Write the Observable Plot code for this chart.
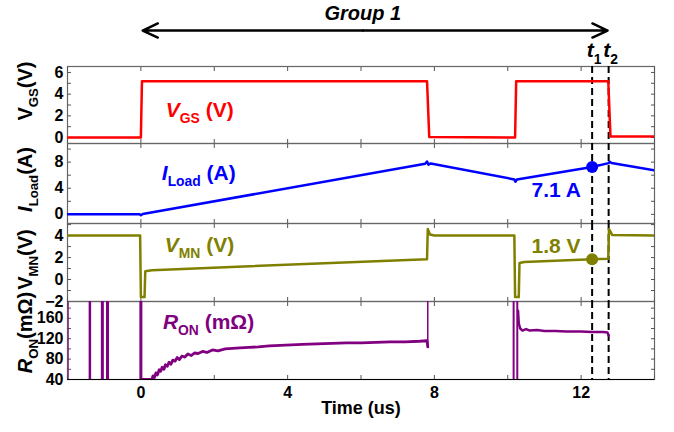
<!DOCTYPE html>
<html><head><meta charset="utf-8">
<script src="https://cdn.jsdelivr.net/npm/d3@7"></script>
<script src="https://cdn.jsdelivr.net/npm/@observablehq/plot@0.6"></script>
<style>
body{margin:0;background:#fff;}
#chart{position:relative;width:674px;height:432px;font-family:"Liberation Sans",Arial,sans-serif;}
#chart svg{position:absolute;left:0;overflow:visible;}
</style></head><body><div id="chart"></div>
<script>
// ---------- data ----------
const xDomain = [-2, 14];
const xTickLabels = [0, 4, 8, 12];
const xMinorTicks = [-2, 0, 2, 4, 6, 8, 10, 12, 14];
const tLineTimes = [12.3, 12.75];
const tLabels = ["{i:t}{s:1}", "{i:t}{s:2}"];
const groupStart = 0.05, groupEnd = 12.72, groupMid = 6.05;
const groupLabel = "Group 1";

const vgsTime  = [-2, 0.0, 0.03, 7.8, 7.86, 10.2, 10.23, 12.74, 12.8, 14];
const vgsValue = [0, 0, 5.2, 5.2, 0.05, 0, 5.2, 5.2, 0.1, 0.1];

const iTime  = [-2, -0.03, 0.0, 0.05, 7.75, 7.8, 7.84, 7.9, 10.18, 10.21, 10.25, 12.3, 12.75, 12.78, 12.83, 14];
const iValue = [0, 0, -0.15, 0.05, 7.75, 8.1, 7.6, 7.8, 5.35, 5.0, 5.35, 7.25, 7.85, 8.05, 7.85, 6.75];

const vmnTime  = [-2, -0.02, 0.0, 0.1, 0.12, 0.3, 7.8, 7.82, 7.88, 8.0, 10.18, 10.2, 10.3, 10.32, 10.45, 12.3, 12.74, 12.76, 12.85, 14];
const vmnValue = [4.0, 4.0, -1.6, -1.6, 0.75, 0.85, 1.85, 4.6, 4.1, 4.0, 4.0, -1.6, -1.6, 1.5, 1.6, 1.85, 1.9, 4.6, 4.05, 4.0];

const ronTime1  = [0.0, 0.3, 0.33, 0.37, 0.41, 0.45, 0.5, 0.54, 0.58, 0.63, 0.67, 0.72, 0.77, 0.82, 0.87, 0.93, 0.99, 1.05, 1.12, 1.2, 1.28, 1.37, 1.46, 1.56, 1.68, 1.8, 1.95, 2.1, 2.3, 2.5, 2.7, 2.95, 3.2, 3.5, 3.8, 4.1, 4.4, 4.8, 5.2, 5.6, 6.0, 6.4, 6.8, 7.2, 7.6, 7.8, 7.82];
const ronValue1 = [40, 40, 47, 44, 53, 49, 59, 56, 64, 60, 69, 66, 74, 70, 78, 76, 83, 79, 86, 84, 90, 87, 92, 91, 95, 93, 98, 96, 100, 101, 102, 103, 104, 106, 107, 108, 109, 110, 111, 112, 112, 113, 114, 114, 115, 116, 104];
const ronTime2  = [10.28, 10.3, 10.34, 10.4, 10.5, 10.6, 10.8, 11.0, 11.3, 11.6, 12.0, 12.3, 12.6, 12.72, 12.75];
const ronValue2 = [175, 150, 140, 136, 139, 136, 137, 135, 135, 134, 134, 133, 133, 132, 126];
const spikeTime  = [-1.98, -1.39, -1.05, -0.91, 0.0, 7.82, 10.16, 10.26];
const spikeLow   = [40, 40, 40, 40, 40, 104, 40, 40];
const spikeHigh  = [193, 193, 193, 193, 193, 193, 193, 193];
const spikeWidth = [1, 2.5, 3, 3, 3, 1.5, 2, 2];

const markerTime = 12.3;
const iMarker = 7.25, vmnMarker = 1.85;
const iMarkerLabel = "7.1 A", vmnMarkerLabel = "1.8 V";

const panelLabels = ["{i:V}{s:GS} (V)", "{i:I}{s:Load} (A)", "{i:V}{s:MN} (V)", "{i:R}{s:ON} (mΩ)"];
const axisLabels  = ["V{s:GS}(V)", "{i:I}{s:Load}(A)", "V{s:MN}(V)", "{i:R}{s:ON}(mΩ)"];
const colors = ["#ff0000", "#0000ff", "#808000", "#800080"];

const yDomains = [[-0.55, 6.55], [-1.4, 10.85], [-2, 5.1], [40, 193]];
const yTicks   = [[0, 2, 4, 6], [0, 4, 8], [-2, 0, 2, 4], [40, 80, 120, 160]];
const yMinor   = [[0, 1, 2, 3, 4, 5, 6], [0, 2, 4, 6, 8, 10], [-2, -1, 0, 1, 2, 3, 4, 5], [40, 60, 80, 100, 120, 140, 160, 180]];
const labelPos = [[0.68, 2.5], [0.57, 6.26], [0.65, 3.1], [0.6, 152]];

// ---------- layout ----------
const FONT = '"Liberation Sans", Arial, Helvetica, sans-serif';
const W = 674, ML = 67, MR = 20;
const panelTop = [66, 143, 223, 301];
const panelHeight = [77, 80, 78, 78];
const axisLabelShift = [-14, -4, -3, -8];
const chart = document.getElementById("chart");

function rich(svg) {
  d3.select(svg).selectAll("text").each(function () {
    const s = this.textContent;
    if (!s.includes("{")) return;
    const f = parseFloat(getComputedStyle(this).fontSize) || 16;
    const parts = [...s.matchAll(/\{([is]):([^}]*)\}|([^{]+)/g)];
    while (this.firstChild) this.removeChild(this.firstChild);
    let shifted = false;
    for (const p of parts) {
      const t = document.createElementNS("http://www.w3.org/2000/svg", "tspan");
      if (p[1] === "s") {
        t.textContent = p[2];
        t.setAttribute("font-size", (0.66 * f) + "px");
        t.setAttribute("font-style", "normal");
        t.setAttribute("dy", (0.3 * f) + "px");
        shifted = true;
      } else {
        t.textContent = p[1] === "i" ? p[2] : p[3];
        if (p[1] === "i") t.setAttribute("font-style", "italic");
        if (shifted) { t.setAttribute("dy", (-0.3 * f) + "px"); shifted = false; }
      }
      this.appendChild(t);
    }
  });
}

function place(svg, top) {
  svg.style.top = top + "px";
  chart.appendChild(svg);
  rich(svg);
}

function frameMarks(k) {
  const tick = {tickFormat: () => "", label: null, stroke: "#555"};
  return [
    Plot.frame({stroke: "#666", strokeWidth: 1.2}),
    Plot.axisY(yMinor[k], {anchor: "left", tickSize: 4, dx: 4, ...tick}),
    Plot.axisY(yMinor[k], {anchor: "right", tickSize: 4, dx: -4, ...tick}),
    Plot.axisX(xMinorTicks, {anchor: "top", tickSize: 4, dy: 4, ...tick}),
    Plot.axisX(xMinorTicks, {anchor: "bottom", tickSize: 4, dy: -4, ...tick}),
    Plot.axisY(yTicks[k], {anchor: "left", tickSize: 0, tickPadding: 4, fontSize: 16, fontWeight: "bold", label: null}),
    Plot.ruleX(tLineTimes, {stroke: "#000", strokeWidth: 2, strokeDasharray: "7,4"}),
    Plot.text([axisLabels[k]], {frameAnchor: "left", dx: -42, dy: axisLabelShift[k], rotate: -90, fontSize: 20, fontWeight: "bold", fill: "#000", textAnchor: "middle"}),
    Plot.text([panelLabels[k]], {x: [labelPos[k][0]], y: [labelPos[k][1]], textAnchor: "start", fontSize: 21, fontWeight: "bold", fill: colors[k]})
  ];
}

function panel(k, extraMarks, opts = {}) {
  const svg = Plot.plot({
    width: W, height: panelHeight[k] + (opts.marginBottom || 0),
    marginLeft: ML, marginRight: MR, marginTop: 0, marginBottom: opts.marginBottom || 0,
    x: {domain: xDomain}, y: {domain: yDomains[k]},
    style: {fontFamily: FONT, fontWeight: "bold", fontSize: "16px", overflow: "visible", background: "transparent", color: "#000"},
    marks: [...frameMarks(k), ...extraMarks]
  });
  place(svg, panelTop[k]);
}

// ---------- top annotation ----------
{
  const svg = Plot.plot({
    width: W, height: 66, marginLeft: ML, marginRight: MR, marginTop: 0, marginBottom: 0,
    x: {domain: xDomain, axis: null}, y: {domain: [0, 1], axis: null},
    style: {fontFamily: FONT, fontWeight: "bold", overflow: "visible", background: "transparent"},
    marks: [
      Plot.arrow([{a: groupMid, b: groupStart}, {a: groupMid, b: groupEnd}], {x1: "a", x2: "b", y1: () => 0.545, y2: () => 0.545, stroke: "#000", strokeWidth: 2.5, headLength: 10, headAngle: 50}),
      Plot.text([groupLabel], {x: [groupMid], y: [0.8], fontSize: 20, fontWeight: "bold", fontStyle: "italic", fill: "#000"}),
      Plot.text(tLabels, {x: tLineTimes, y: [0.24, 0.24], dx: 2, fontSize: 21, fontWeight: "bold", fill: "#000"})
    ]
  });
  place(svg, 0);
}

// ---------- panels ----------
const vgs = vgsTime.map((t, i) => ({t, v: vgsValue[i]}));
const il = iTime.map((t, i) => ({t, v: iValue[i]}));
const vmn = vmnTime.map((t, i) => ({t, v: vmnValue[i]}));
const ron1 = ronTime1.map((t, i) => ({t, v: ronValue1[i]}));
const ron2 = ronTime2.map((t, i) => ({t, v: ronValue2[i]}));
const spikes = spikeTime.map((t, i) => ({t, lo: spikeLow[i], hi: spikeHigh[i], w: spikeWidth[i]}));

panel(0, [
  Plot.line(vgs, {x: "t", y: "v", stroke: colors[0], strokeWidth: 2.5, clip: true})
]);
panel(1, [
  Plot.line(il, {x: "t", y: "v", stroke: colors[1], strokeWidth: 2.5, clip: true}),
  Plot.dot([{t: markerTime, v: iMarker}], {x: "t", y: "v", r: 6, fill: colors[1]}),
  Plot.text([iMarkerLabel], {x: [10.65], y: [3.65], textAnchor: "start", fontSize: 21, fontWeight: "bold", fill: colors[1]})
]);
panel(2, [
  Plot.line(vmn, {x: "t", y: "v", stroke: colors[2], strokeWidth: 2.5, clip: true}),
  Plot.dot([{t: markerTime, v: vmnMarker}], {x: "t", y: "v", r: 6, fill: colors[2]}),
  Plot.text([vmnMarkerLabel], {x: [10.65], y: [3.03], textAnchor: "start", fontSize: 21, fontWeight: "bold", fill: colors[2]})
]);
panel(3, [
  Plot.ruleX(spikes, {x: "t", y1: "lo", y2: "hi", stroke: colors[3], strokeWidth: "w", clip: true}),
  Plot.line(ron1, {x: "t", y: "v", stroke: colors[3], strokeWidth: 2.8, clip: true}),
  Plot.line(ron2, {x: "t", y: "v", stroke: colors[3], strokeWidth: 2.5, clip: true}),
  Plot.ruleY([40], {stroke: "#000", strokeWidth: 1.2}),
  Plot.axisX(xTickLabels, {anchor: "bottom", tickSize: 0, tickPadding: 7, fontSize: 16, fontWeight: "bold", label: null}),
  Plot.text(["Time (us)"], {frameAnchor: "bottom", dy: 34, fontSize: 18, fontWeight: "bold", fill: "#000"})
], {marginBottom: 53});
</script></body></html>
